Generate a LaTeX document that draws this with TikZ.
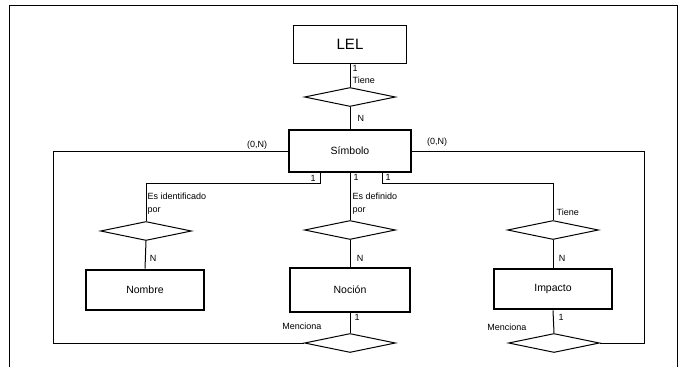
\documentclass[tikz,border=0pt]{standalone}
\usepackage{fontspec}
\setmainfont{Liberation Sans}
\usetikzlibrary{positioning,shapes.geometric}

\tikzset{
  entidad/.style={draw,line width=2.6pt,minimum width=118pt,minimum height=40pt,
    inner sep=0pt,font=\fontsize{10.5}{12}\selectfont},
  relacion/.style={draw,diamond,line width=1pt,minimum width=91pt,minimum height=19pt,
    inner sep=0pt},
  etiq/.style={inner sep=0.5pt,font=\fontsize{9}{13.5}\selectfont},
  linea/.style={line width=1pt}
}

\begin{document}
\begin{tikzpicture}[x=1pt,y=-1pt]
\useasboundingbox (0,0) rectangle (680,367);
% marco
\draw[line width=0.8pt] (9,367) -- (9,5) -- (677,5) -- (677,367);

\node[draw,line width=0.8pt,minimum width=113pt,minimum height=38pt,
font=\fontsize{15}{17}\selectfont] (lel) at (350,44) {LEL};
\node[relacion] (tiene1) at (350,97) {};
\node[entidad,minimum width=122pt,minimum height=42pt] (sim) at (350,151) {Símbolo};

\node[relacion] (ident) at (146,231) {};
\node[relacion] (defin) at (350,230) {};
\node[relacion] (tiene2) at (553,230) {};

\node[entidad] (nom) at (145,290) {Nombre};
\node[entidad,minimum width=120pt,minimum height=44pt] (noc) at (350,290) {Noción};
\node[entidad] (imp) at (553,289) {Impacto};

\node[relacion] (menc1) at (350,343) {};
\node[relacion] (menc2) at (554,343) {};

\coordinate (izq) at (53,0);
\coordinate (der) at (644,0);

% conectores
\draw[linea] (lel.south) -- (tiene1.north);
\draw[linea] (tiene1.south) -- (sim.north);
\draw[linea] (sim.west) -| (izq |- menc1.west) -- (menc1.west);
\draw[linea] (sim.east) -| (der |- menc2.east) -- (menc2.east);
\draw[linea] ([xshift=-30pt]sim.south) -- ++(0,10) -| (ident.north);
\draw[linea] (sim.south) -- (defin.north);
\draw[linea] ([xshift=32pt]sim.south) -- ++(0,10) -| (tiene2.north);
\draw[linea] (ident.south) -- (nom.north);
\draw[linea] (defin.south) -- (noc.north);
\draw[linea] (tiene2.south) -- (imp.north);
\draw[linea] (noc.south) -- (menc1.north);
\draw[linea] (imp.south) -- (menc2.north);

% etiquetas
\node[etiq,anchor=west] (c1) at (352,68) {1};
\node[etiq,anchor=west] (r1) at (352,80) {Tiene};
\node[etiq,anchor=west] (c2) at (357,118) {N};
\node[etiq,anchor=south] (c3) at (257,150) {(0,N)};
\node[etiq,anchor=south] (c4) at (437,147) {(0,N)};
\node[etiq] (c5) at (313,178) {1};
\node[etiq] (c6) at (356,177) {1};
\node[etiq] (c7) at (388,177) {1};
\node[etiq,anchor=north west,align=left] (r2) at (147,192) {Es identificado\\por};
\node[etiq,anchor=north west,align=left] (r3) at (352,192) {Es definido\\por};
\node[etiq,anchor=west] (r4) at (556,212) {Tiene};
\node[etiq] (c8) at (153,258) {N};
\node[etiq] (c9) at (360,258) {N};
\node[etiq] (c10) at (562,258) {N};
\node[etiq] (c11) at (357,317) {1};
\node[etiq] (c12) at (561,317) {1};
\node[etiq,anchor=east] (r5) at (322,326) {Menciona};
\node[etiq,anchor=east] (r6) at (527,327) {Menciona};
\end{tikzpicture}
\end{document}
